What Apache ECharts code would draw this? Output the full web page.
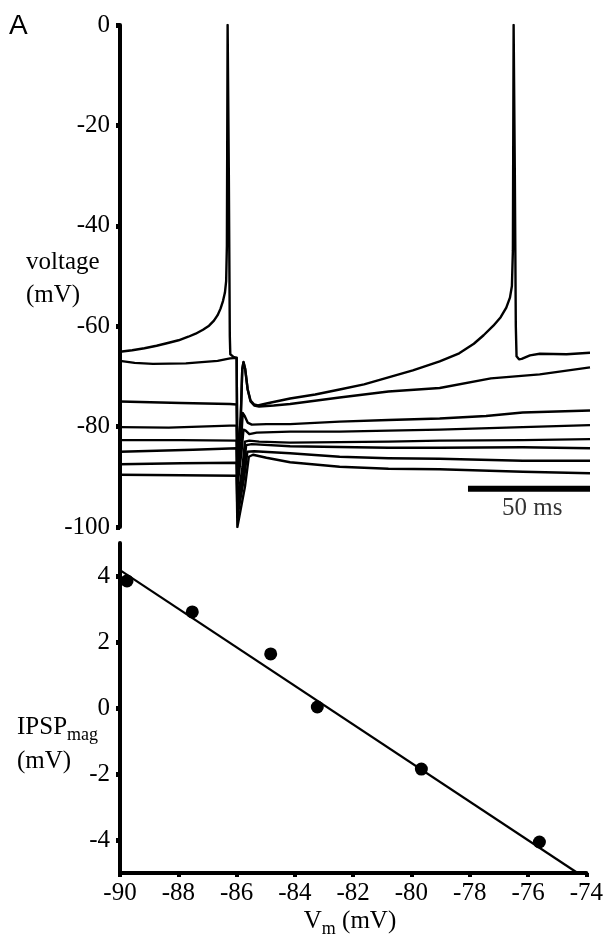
<!DOCTYPE html>
<html>
<head>
<meta charset="utf-8">
<script src="https://cdn.jsdelivr.net/npm/echarts@6/dist/echarts.min.js"></script>
<style>
  html, body { margin: 0; padding: 0; background: #fff; }
  #chart { width: 606px; height: 934px; }
</style>
</head>
<body>
<div id="chart"></div>
<script>
// panel A top: membrane voltage traces, [time ms, mV]
const trace1 = [[0,-65.1],[5,-64.8],[10,-64.4],[15,-63.9],[20,-63.3],[24,-62.8],[28,-62.1],[31,-61.5],[34,-60.7],[36.5,-59.9],[38.5,-58.9],[40,-57.8],[41.2,-56.5],[42.2,-55.0],[43,-53.3],[43.5,-51],[43.8,-44],[44.1,0],[44.6,-30],[45.0,-62],[45.2,-65.6],[46.5,-66.1],[47.8,-66.3],
  [48.1,-88],[49.5,-78],[50.1,-68.5],[50.6,-67.1],[51.3,-68.5],[52.3,-72.5],[53.5,-74.8],[55,-75.6],[56.5,-75.8],[60,-75.4],[69.7,-74.4],[80,-73.6],[90,-72.6],[100,-71.6],[110,-70.2],[120,-68.8],[131,-67.0],[139,-65.4],[145,-63.5],[149,-61.8],[153,-59.9],[156,-58.2],[158.3,-56.3],[159.8,-54.3],[160.6,-52],[161.0,-45],[161.3,0],[161.8,-30],[162.2,-60],[162.5,-66.0],[163.5,-66.6],[164.6,-66.5],[168,-65.8],[172,-65.5],[183,-65.6],[192.6,-65.3]];
const trace2 = [[0,-66.9],[6,-67.3],[13.5,-67.5],[27,-67.4],[40,-66.9],[45.1,-66.4],[47.8,-66.3],
  [48.1,-88],[49.5,-78],[50.1,-68.6],[50.6,-67.2],[51.3,-68.6],[52.3,-72.6],[53.5,-75.0],[55,-75.8],[57,-76.0],[63,-75.8],[69.7,-75.5],[90,-74.2],[110,-73.0],[131,-72.3],[152,-70.4],[172,-69.6],[192.6,-68.2]];
const trace3 = [[0,-75.0],[25,-75.3],[45.1,-75.5],[47.8,-75.6],
  [48.1,-90],[49.6,-83],[50.3,-77.3],[51.0,-77.8],[52.3,-79.2],[54,-79.6],[60,-79.5],[69.7,-79.5],[90,-79.0],[110,-78.7],[131,-78.4],[150,-77.9],[165,-77.2],[192.6,-76.8]];
const trace4 = [[0,-80.1],[20,-80.2],[45,-79.8],[47.8,-79.8],
  [48.1,-92],[49.8,-85],[50.6,-80.6],[51.5,-80.8],[53,-81.5],[56,-81.2],[69.7,-81.0],[90,-81.0],[110,-80.8],[131,-80.6],[165,-80.1],[192.6,-79.7]];
const trace5 = [[0,-82.7],[25,-82.7],[47.8,-82.8],
  [48.1,-95],[50.2,-88],[51.2,-83.0],[53,-82.8],[57,-83.0],[69.7,-83.2],[110,-83.0],[131,-82.8],[165,-82.7],[192.6,-82.5]];
const trace6 = [[0,-85.0],[30,-84.6],[47.8,-84.3],
  [48.1,-97],[50.6,-89],[51.7,-83.7],[54,-83.5],[69.7,-83.9],[110,-84.2],[131,-84.2],[165,-84.1],[192.6,-84.3]];
const trace7 = [[0,-87.5],[25,-87.3],[47.8,-87.2],
  [48.1,-98],[50.9,-90],[52.2,-85.0],[55,-84.9],[69.7,-85.3],[90,-86.0],[110,-86.3],[131,-86.4],[165,-86.8],[192.6,-86.8]];
const trace8 = [[0,-89.6],[25,-89.7],[47.8,-89.8],
  [48.1,-100],[51.2,-92],[52.8,-86.0],[54.5,-85.6],[60,-86.2],[69.7,-87.1],[90,-88.0],[110,-88.4],[131,-88.5],[165,-89.0],[192.6,-89.3]];
const traces = [trace1, trace2, trace3, trace4, trace5, trace6, trace7, trace8];

// 50 ms scale bar
const scaleBarTime = [142.6, 192.6];
const scaleBarLevel = -92.4;
const scaleBarText = '50 ms';

// panel A bottom: IPSP magnitude vs membrane potential
const vm = [-89.76, -87.52, -84.83, -83.23, -79.66, -75.61];
const ipsp = [3.85, 2.91, 1.64, 0.03, -1.85, -4.06];
const fitVm = [-90, -74.3];
const fitIpsp = [4.18, -5];
const ipspTicks = [-4, -2, 0, 2, 4];

const serif = 'Liberation Serif';
const black = '#000';

const chart = echarts.init(document.getElementById('chart'));

const traceSeries = traces.map(tr => ({
  type: 'line',
  xAxisIndex: 0,
  yAxisIndex: 0,
  data: tr,
  symbol: 'none',
  silent: true,
  lineStyle: { color: black, width: 2.4, join: 'round' },
  z: 3
}));

const option = {
  animation: false,
  backgroundColor: '#fff',
  grid: [
    { left: 120, top: 25, width: 470, height: 502 },
    { left: 120, top: 543, width: 470, height: 330 }
  ],
  xAxis: [
    { type: 'value', gridIndex: 0, min: 0, max: 192.6, show: false },
    {
      type: 'value', gridIndex: 1, min: -90, max: -74, interval: 2,
      axisLine: { show: true, onZero: false, lineStyle: { color: black, width: 4 } },
      axisTick: { show: true, length: 4, lineStyle: { color: black, width: 4 } },
      axisLabel: { color: black, fontFamily: serif, fontSize: 25, margin: 8 },
      splitLine: { show: false }
    }
  ],
  yAxis: [
    {
      type: 'value', gridIndex: 0, min: -100, max: 0, interval: 20,
      axisLine: { show: true, onZero: false, lineStyle: { color: black, width: 4 } },
      axisTick: { show: true, length: 4, lineStyle: { color: black, width: 5 } },
      axisLabel: { color: black, fontFamily: serif, fontSize: 25, margin: 10 },
      splitLine: { show: false }
    },
    {
      type: 'value', gridIndex: 1, min: -5, max: 5,
      axisLine: { show: true, onZero: false, lineStyle: { color: black, width: 4 } },
      axisTick: { show: true, length: 4, customValues: ipspTicks, lineStyle: { color: black, width: 5 } },
      axisLabel: { color: black, fontFamily: serif, fontSize: 25, margin: 10, customValues: ipspTicks },
      splitLine: { show: false }
    }
  ],
  graphic: [
    { type: 'text', left: 9, top: 12, style: { text: 'A', font: '28px "Liberation Sans"', fill: black } },
    { type: 'text', x: 26, y: 262, style: { text: 'voltage', font: '25px "Liberation Serif"', fill: black, verticalAlign: 'middle' } },
    { type: 'text', x: 26, y: 295, style: { text: '(mV)', font: '25px "Liberation Serif"', fill: black, verticalAlign: 'middle' } },
    {
      type: 'text', x: 17, y: 727,
      style: {
        text: '{a|IPSP}{b|mag}', verticalAlign: 'middle', fill: black,
        rich: {
          a: { fontFamily: serif, fontSize: 25, fill: black },
          b: { fontFamily: serif, fontSize: 18, fill: black, padding: [16, 0, 0, 0] }
        }
      }
    },
    { type: 'text', x: 17, y: 761, style: { text: '(mV)', font: '25px "Liberation Serif"', fill: black, verticalAlign: 'middle' } },
    {
      type: 'text', x: 350, y: 921,
      style: {
        text: '{a|V}{b|m}{a| (mV)}', align: 'center', verticalAlign: 'middle', fill: black,
        rich: {
          a: { fontFamily: serif, fontSize: 25, fill: black },
          b: { fontFamily: serif, fontSize: 18, fill: black, padding: [16, 0, 0, 0] }
        }
      }
    }
  ],
  series: [
    ...traceSeries,
    {
      type: 'line',
      xAxisIndex: 0,
      yAxisIndex: 0,
      data: scaleBarTime.map(t => [t, scaleBarLevel]),
      symbol: 'none',
      silent: true,
      lineStyle: { color: black, width: 6, cap: 'butt' }
    },
    {
      type: 'scatter',
      xAxisIndex: 0,
      yAxisIndex: 0,
      data: [[(scaleBarTime[0] + scaleBarTime[1]) / 2 + 1.3, scaleBarLevel]],
      symbolSize: 0,
      silent: true,
      label: {
        show: true, position: 'bottom', distance: 7,
        formatter: scaleBarText, color: black, fontFamily: serif, fontSize: 25
      }
    },
    {
      type: 'line',
      xAxisIndex: 1,
      yAxisIndex: 1,
      data: fitVm.map((v, i) => [v, fitIpsp[i]]),
      symbol: 'none',
      silent: true,
      lineStyle: { color: black, width: 2.2 }
    },
    {
      type: 'scatter',
      xAxisIndex: 1,
      yAxisIndex: 1,
      data: vm.map((v, i) => [v, ipsp[i]]),
      symbol: 'circle',
      symbolSize: 13,
      silent: true,
      itemStyle: { color: black, opacity: 1 },
      z: 4
    }
  ]
};

chart.setOption(option);
</script>
</body>
</html>
